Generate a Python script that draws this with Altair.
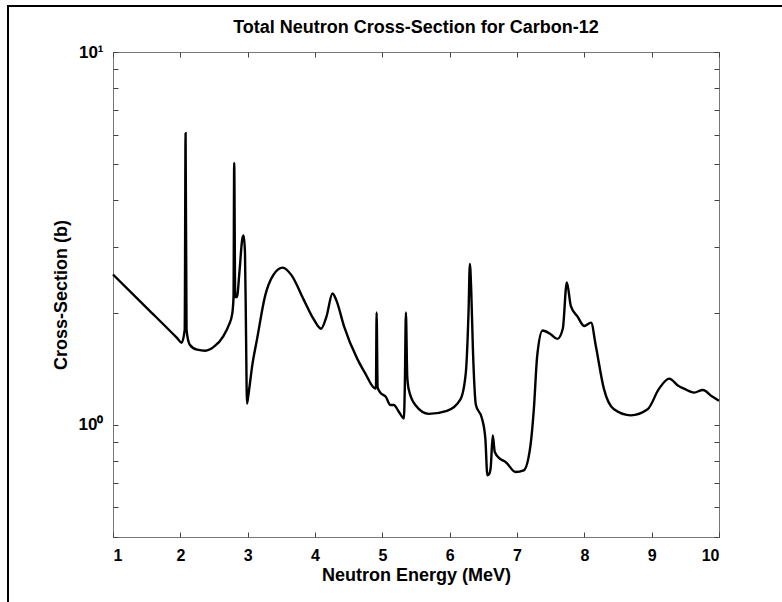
import altair as alt
import pandas as pd

# Total neutron cross-section of C-12
energy = [1.00, 1.50, 1.95, 2.02, 2.065, 2.078, 2.092, 2.14, 2.25, 2.37, 2.50, 2.64, 2.72, 2.77, 2.79,
          2.80, 2.815, 2.84, 2.88, 2.92, 2.94, 2.96, 2.975, 2.99, 3.01, 3.07, 3.14, 3.26, 3.38,
          3.52, 3.65, 3.83, 3.98, 4.09, 4.17, 4.26, 4.32, 4.43, 4.63, 4.75, 4.87, 4.905, 4.915,
          4.93, 4.97, 5.05, 5.12, 5.17, 5.25, 5.32, 5.335, 5.35, 5.37, 5.39, 5.49, 5.69, 5.96,
          6.16, 6.24, 6.28, 6.30, 6.32, 6.345, 6.39, 6.48, 6.53, 6.56, 6.59, 6.61, 6.64, 6.67,
          6.75, 6.83, 6.98, 7.10, 7.20, 7.25, 7.30, 7.38, 7.50, 7.60, 7.68, 7.74, 7.80, 7.90,
          8.00, 8.10, 8.17, 8.29, 8.44, 8.69, 8.94, 9.11, 9.26, 9.40, 9.48, 9.63, 9.76, 9.90, 10.00]
sigma = [2.53, 2.06, 1.71, 1.66, 1.80, 6.06, 1.80, 1.64, 1.59, 1.58, 1.62, 1.73, 1.85, 1.98, 2.20,
         5.04, 2.20, 2.20, 2.60, 3.15, 3.22, 2.90, 1.80, 1.14, 1.20, 1.45, 1.70, 2.22, 2.52,
         2.64, 2.52, 2.17, 1.92, 1.81, 1.95, 2.25, 2.15, 1.84, 1.50, 1.37, 1.26, 1.25, 2.00,
         1.26, 1.22, 1.19, 1.13, 1.13, 1.08, 1.04, 1.30, 2.00, 1.35, 1.25, 1.13, 1.07, 1.09,
         1.17, 1.38, 2.00, 2.70, 2.30, 1.60, 1.13, 1.04, 0.918, 0.732, 0.74, 0.77, 0.936, 0.845,
         0.81, 0.795, 0.747, 0.755, 0.88, 1.10, 1.53, 1.79, 1.75, 1.70, 1.81, 2.41, 2.08, 1.95,
         1.84, 1.88, 1.63, 1.25, 1.10, 1.06, 1.10, 1.25, 1.33, 1.27, 1.25, 1.22, 1.24, 1.19, 1.16]

x_ticks = [1, 2, 3, 4, 5, 6, 7, 8, 9, 10]
y_major = [1, 10]
y_all_ticks = [0.5, 0.6, 0.7, 0.8, 0.9, 1, 2, 3, 4, 5, 6, 7, 8, 9, 10]

df = pd.DataFrame({"E": energy, "S": sigma})

FONT = "Liberation Sans"
W, H = 606, 485

xscale = alt.Scale(domain=[1, 10], nice=False, zero=False)
yscale = alt.Scale(type="log", domain=[0.5, 10], nice=False)

base = alt.Chart(df)

main = base.mark_line(color="black", strokeWidth=2.4, interpolate="monotone").encode(
    x=alt.X("E:Q", scale=xscale,
            axis=alt.Axis(orient="bottom", values=x_ticks, title="Neutron Energy (MeV)",
                          ticks=False, tickSize=0, domain=False, grid=False,
                          labelPadding=10, titlePadding=3, labelFontSize=16,
                          labelFontWeight="bold", titleFontSize=18, titleFontWeight="bold",
                          labelFont=FONT, titleFont=FONT, labelColor="black", titleColor="black")),
    y=alt.Y("S:Q", scale=yscale,
            axis=alt.Axis(orient="left", values=y_major, title="Cross-Section (b)",
                          labelExpr="datum.value == 10 ? '10\u00b9' : '10\u2070'",
                          ticks=False, tickSize=0, domain=False, grid=False,
                          labelPadding=10, titlePadding=8, labelFontSize=17,
                          labelFontWeight="bold", titleFontSize=18, titleFontWeight="bold",
                          labelFont=FONT, titleFont=FONT, labelColor="black", titleColor="black")),
)

def tick_axis(orient, vals, size):
    return alt.Axis(orient=orient, values=vals, labels=False, title=None, domain=False,
                    grid=False, ticks=True, tickSize=size, offset=-size, tickColor="#444",
                    tickWidth=1)

ticks_bl = base.mark_line(opacity=0).encode(
    x=alt.X("E:Q", scale=xscale, axis=tick_axis("bottom", x_ticks, 5)),
    y=alt.Y("S:Q", scale=yscale, axis=tick_axis("left", y_all_ticks, 5)),
)
ticks_tr = base.mark_line(opacity=0).encode(
    x=alt.X("E:Q", scale=xscale, axis=tick_axis("top", x_ticks, 5)),
    y=alt.Y("S:Q", scale=yscale, axis=tick_axis("right", y_all_ticks, 5)),
)

frame_df = pd.DataFrame({"k": [0]})
left_border = alt.Chart(frame_df).mark_rule(color="black", strokeWidth=2).encode(
    x=alt.value(-105), y=alt.value(-47), y2=alt.value(560))
top_border = alt.Chart(frame_df).mark_rule(color="black", strokeWidth=2).encode(
    x=alt.value(-105), x2=alt.value(680), y=alt.value(-46))

chart = alt.layer(main, ticks_bl, ticks_tr, left_border, top_border).resolve_axis(
    x="independent", y="independent"
).properties(
    width=W, height=H,
    title=alt.TitleParams("Total Neutron Cross-Section for Carbon-12", font=FONT,
                          fontSize=18, fontWeight="bold", color="black", anchor="middle",
                          offset=12, dy=45),
    autosize=alt.AutoSizeParams(type="none"),
    padding={"left": 113, "top": 52, "right": 63, "bottom": 65},
    background="white",
).configure_view(stroke="#777", strokeWidth=1)

chart.save("out.html", embed_options={"renderer": "svg", "actions": False})
